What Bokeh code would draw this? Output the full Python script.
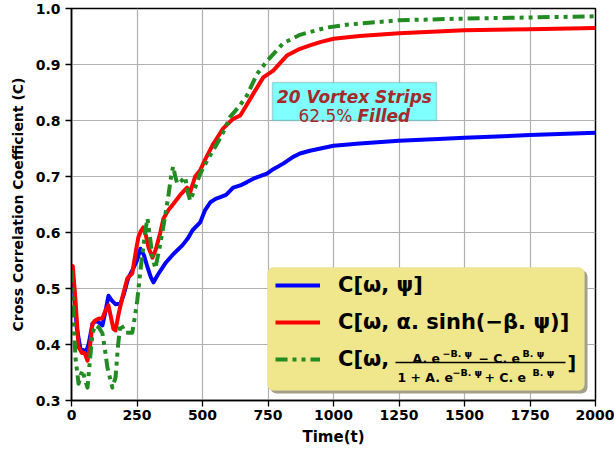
from bokeh.plotting import figure
from bokeh.models import (Range1d, FixedTicker, Legend, LegendItem, BoxAnnotation,
                          Label, NumeralTickFormatter)
from bokeh.embed import file_html
from bokeh.resources import INLINE

# ---------------- data ----------------
t_blue = [0, 10, 20, 34, 45, 53, 65, 80, 92, 103, 118, 130, 141, 155, 168, 187, 200, 216,
          235, 250, 263, 276, 290, 303, 313, 330, 358, 390, 423, 445, 462, 491, 510, 530,
          550, 568, 590, 617, 644, 670, 694, 746, 770, 808, 846, 872, 910, 1000, 1100,
          1250, 1400, 1500, 1750, 2000]
c_blue = [0.541, 0.50, 0.43, 0.393, 0.39, 0.384, 0.40, 0.437, 0.442, 0.44, 0.434, 0.46,
          0.487, 0.478, 0.472, 0.473, 0.49, 0.518, 0.535, 0.55, 0.571, 0.56, 0.538, 0.52,
          0.511, 0.525, 0.545, 0.562, 0.577, 0.59, 0.604, 0.618, 0.64, 0.654, 0.66, 0.663,
          0.667, 0.68, 0.684, 0.69, 0.696, 0.705, 0.713, 0.723, 0.735, 0.741, 0.746,
          0.755, 0.759, 0.764, 0.767, 0.769, 0.774, 0.778]

t_red = [0, 5, 15, 27, 40, 50, 61, 70, 80, 90, 103, 118, 130, 141, 150, 160, 168, 180,
         194, 213, 232, 245, 255, 265, 274, 284, 294, 309, 322, 338, 351, 370, 387, 415,
         441, 453, 472, 491, 510, 541, 579, 617, 644, 665, 694, 732, 770, 822, 872, 910,
         949, 1000, 1100, 1250, 1500, 1750, 2000]
c_red = [0.541, 0.54, 0.48, 0.395, 0.385, 0.385, 0.371, 0.395, 0.437, 0.443, 0.446, 0.447,
         0.461, 0.47, 0.45, 0.428, 0.425, 0.455, 0.484, 0.518, 0.527, 0.565, 0.591, 0.603,
         0.609, 0.595, 0.573, 0.555, 0.57, 0.598, 0.625, 0.64, 0.65, 0.667, 0.68, 0.672,
         0.70, 0.711, 0.73, 0.758, 0.786, 0.803, 0.809, 0.825, 0.848, 0.877, 0.889, 0.916,
         0.928, 0.934, 0.94, 0.946, 0.951, 0.956, 0.961, 0.963, 0.965]

t_green = [0, 8, 15, 27, 35, 42, 50, 61, 70, 80, 91, 105, 118, 128, 137, 156, 168, 178,
           187, 196, 206, 232, 242, 251, 265, 282, 290, 300, 309, 320, 335, 350, 369, 380,
           388, 396, 404, 415, 434, 442, 453, 468, 491, 522, 556, 580, 606, 640, 670, 708,
           746, 808, 872, 910, 975, 1050, 1250, 1500, 1750, 2000]
c_green = [0.532, 0.45, 0.377, 0.33, 0.345, 0.354, 0.34, 0.323, 0.37, 0.42, 0.434, 0.43,
           0.42, 0.39, 0.359, 0.323, 0.341, 0.40, 0.437, 0.43, 0.421, 0.421, 0.45, 0.479,
           0.54, 0.604, 0.625, 0.59, 0.556, 0.536, 0.57, 0.609, 0.663, 0.70, 0.718, 0.70,
           0.687, 0.69, 0.699, 0.675, 0.657, 0.675, 0.705, 0.732, 0.759, 0.78, 0.807, 0.825,
           0.845, 0.883, 0.906, 0.938, 0.953, 0.958, 0.966, 0.971, 0.979, 0.982, 0.984, 0.986]

x_ticks = [0, 250, 500, 750, 1000, 1250, 1500, 1750, 2000]
y_ticks = [0.3, 0.4, 0.5, 0.6, 0.7, 0.8, 0.9, 1.0]

labels = ["C[ω, ψ]", "C[ω, α. sinh(−β. ψ)]", "C[ω,"]
note_line1 = "20 Vortex Strips"
note_pct = "62.5%"
note_filled = "Filled"

# ---------------- figure ----------------
W, H = 614, 449
L, R, T, B = 71, 19, 8, 49
p = figure(width=W, height=H, x_range=Range1d(0, 2000), y_range=Range1d(0.3, 1.0),
           output_backend="svg", toolbar_location=None,
           min_border_left=L, min_border_right=R, min_border_top=T, min_border_bottom=B)
p.background_fill_color = "white"
p.border_fill_color = "white"
p.outline_line_color = "black"
p.outline_line_width = 1.5

FW = W - L - R
FH = H - T - B


def xd(px):
    return (px - L) / FW * 2000


def yd(py):
    return 1.0 - (py - T) / FH * 0.7


FONT = "DejaVu Sans"

for ax in (p.xaxis[0], p.yaxis[0]):
    ax.major_label_text_font = FONT
    ax.major_label_text_font_style = "bold"
    ax.major_label_text_font_size = "14px"
    ax.major_label_text_color = "black"
    ax.axis_label_text_font = FONT
    ax.axis_label_text_font_style = "bold"
    ax.axis_label_text_color = "black"
    ax.major_tick_out = 6
    ax.major_tick_in = 0
    ax.minor_tick_out = 0
    ax.minor_tick_in = 0
    ax.axis_line_width = 1.5
    ax.major_tick_line_width = 1.3

p.xaxis.ticker = FixedTicker(ticks=x_ticks)
p.yaxis.ticker = FixedTicker(ticks=y_ticks)
p.yaxis.formatter = NumeralTickFormatter(format="0.0")
p.xaxis.axis_label = "Time(t)"
p.yaxis.axis_label = "Cross Correlation Coefficient (C)"
p.xaxis.axis_label_text_font_size = "15px"
p.yaxis.axis_label_text_font_size = "14px"
p.xaxis.major_label_standoff = 3
p.yaxis.major_label_standoff = 5
p.xaxis.axis_label_standoff = 5
p.yaxis.axis_label_standoff = 7

p.xgrid.grid_line_color = "#b0b0b0"
p.ygrid.grid_line_color = "#b0b0b0"
p.xgrid.grid_line_width = 1.2
p.ygrid.grid_line_width = 1.2

r_blue = p.line(t_blue, c_blue, line_color="#0000ff", line_width=4, line_join="round")
r_red = p.line(t_red, c_red, line_color="#ff0000", line_width=4, line_join="round")
r_green = p.line(t_green, c_green, line_color="#228b22", line_width=4,
                 line_dash="12 5 4 5 4 5", line_join="round")

# ---------------- legend box ----------------
shadow = BoxAnnotation(left=xd(270), right=xd(587), top=yd(270), bottom=yd(393),
                       fill_color="#a3a08a", fill_alpha=1.0, line_alpha=0,
                       border_radius=6)
box = BoxAnnotation(left=xd(267), right=xd(584), top=yd(267), bottom=yd(390),
                    fill_color="#f0e68c", fill_alpha=1.0, line_color="#d8d0a0",
                    line_width=1, border_radius=6)
p.add_layout(shadow)
p.add_layout(box)

legend = Legend(items=[LegendItem(label=labels[0], renderers=[r_blue]),
                       LegendItem(label=labels[1], renderers=[r_red]),
                       LegendItem(label=labels[2], renderers=[r_green])],
                location=(196, 20))
legend.background_fill_alpha = 0
legend.border_line_alpha = 0
legend.label_text_font = FONT
legend.label_text_font_style = "bold"
legend.label_text_font_size = "21px"
legend.label_text_color = "black"
legend.glyph_width = 45
legend.glyph_height = 26
legend.label_height = 26
legend.label_standoff = 18
legend.spacing = 11
legend.padding = 8
legend.margin = 0
p.add_layout(legend)

# fraction in third legend entry
def lab(text, px, py, size, align="left", baseline="alphabetic", style="bold",
        color="black"):
    p.add_layout(Label(x=xd(px), y=yd(py), text=text, text_font=FONT,
                       text_font_style=style, text_font_size=size, text_color=color,
                       text_align=align, text_baseline=baseline))

lab("A. e", 412, 358, "12.5px")
lab("−B. ψ", 442, 352.5, "9.5px")
lab("− C. e", 478, 358, "12.5px")
lab("B. ψ", 522, 352.5, "9.5px")
lab("1 + A. e", 397, 377, "12.5px")
lab("−B. ψ", 452, 371.5, "9.5px")
lab("+ C. e", 484, 377, "12.5px")
lab("B. ψ", 532, 371.5, "9.5px")
p.add_layout(BoxAnnotation(left=xd(395), right=xd(565), top=yd(361.3), bottom=yd(362.7),
                           fill_color="black", fill_alpha=1.0, line_alpha=0))
lab("]", 567, 362, "19px", baseline="middle")

# ---------------- note box ----------------
p.add_layout(BoxAnnotation(left=xd(272), right=xd(436), top=yd(82), bottom=yd(120),
                           fill_color="#80ffff", fill_alpha=1.0, line_color="#4f7f7f",
                           line_width=1.5))
lab(note_line1, 354, 96, "17px", align="center", style="bold italic", color="#a52a2a")
lab(note_pct, 352, 115, "17px", align="right", style="normal", color="#a52a2a")
lab(note_filled, 357, 115, "17px", align="left", style="bold italic", color="#a52a2a")

open("out.html", "w").write(file_html(p, INLINE))
